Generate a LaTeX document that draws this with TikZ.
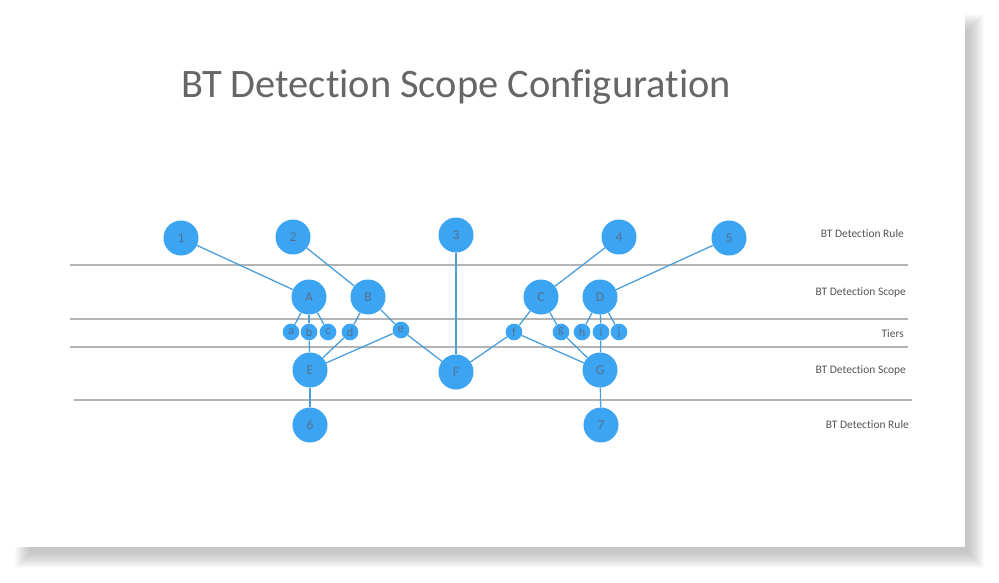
\documentclass[tikz,border=0pt]{standalone}
\usepackage{fontspec}
\setmainfont{Carlito}[Ligatures=NoCommon]
\usepackage{tikz}
\usetikzlibrary{calc,positioning}
\definecolor{nodeblue}{HTML}{3BA4F3}
\definecolor{edgeblue}{HTML}{4C9EDB}
\definecolor{nodetext}{HTML}{56708A}
\definecolor{rulegray}{HTML}{B4B4B4}
\definecolor{labelgray}{HTML}{555555}
\definecolor{titlegray}{HTML}{666666}
\tikzset{
    big/.style={circle, fill=nodeblue, minimum size=1.05cm, inner sep=0pt,
      text=nodetext, font=\fontsize{11.5}{12}\selectfont},
    tier/.style={circle, fill=nodeblue, minimum size=0.5cm, inner sep=0pt,
      text=nodetext, font=\fontsize{10.5}{11}\selectfont},
    edge/.style={draw=edgeblue, line width=1.1pt},
    band/.style={draw=rulegray, line width=1pt},
    lbl/.style={anchor=east, text=labelgray, font=\fontsize{9.8}{11}\selectfont},
    title/.style={text=titlegray, font=\fontsize{34.5}{40}\selectfont}
}

\begin{document}
\begin{tikzpicture}[x=0.03cm, y=-0.03cm]
\useasboundingbox (0,0) rectangle (999,583);

% ---- sheet and its shadow ----
\foreach \k in {1,...,16}
  \fill[black, opacity=0.017] (13+18-\k, 12+18-\k) rectangle (965+3+\k, 547+5+\k);
\fill[white] (13,12) rectangle (965,547);

\node[title] (ttl) at (456,87) {BT Detection Scope Configuration};

% ---- bands ----
\coordinate (L1) at (70,265);  \coordinate (R1) at (908,265);
\coordinate (L2) at (70,319);  \coordinate (R2) at (908,319);
\coordinate (L3) at (70,347);  \coordinate (R3) at (908,347);
\coordinate (L4) at (74,400);  \coordinate (R4) at (912,400);
\draw[band] (L1) -- (R1);
\draw[band] (L2) -- (R2);
\draw[band] (L3) -- (R3);
\draw[band] (L4) -- (R4);

\node[lbl] (lr1) at (908,234) {BT Detection Rule};
\node[lbl] (ls1) at (910,292) {BT Detection Scope};
\node[lbl] (lt)  at (908,334) {Tiers};
\node[lbl] (ls2) at (910,370) {BT Detection Scope};
\node[lbl] (lr2) at (913,425) {BT Detection Rule};

% ---- rules (top) ----
\node[big] (n1) at (181,238) {1};
\node[big] (n2) at (293,237) {2};
\node[big] (n3) at (456,235) {3};
\node[big] (n4) at (619,237) {4};
\node[big] (n5) at (729,238) {5};

% ---- scopes ----
\node[big] (A) at (309,297) {A};
\node[big] (B) at (368,297) {B};
\node[big] (C) at (541,297) {C};
\node[big] (D) at (600,297) {D};

% ---- tiers ----
\node[tier] (ta) at (291,332) {a};
\node[tier] (tb) at (309,332) {b};
\node[tier] (tc) at (328,332) {c};
\node[tier] (td) at (350,332) {d};
\node[tier] (te) at (401,330) {e};
\node[tier] (tf) at (514,332) {f};
\node[tier] (tg) at (561,332) {g};
\node[tier] (th) at (582,332) {h};
\node[tier] (ti) at (601,332) {i};
\node[tier] (tj) at (619,332) {j};

% ---- lower scopes and rules ----
\node[big] (E) at (310,370) {E};
\node[big] (F) at (456,372) {F};
\node[big] (G) at (600,370) {G};
\node[big] (n6) at (310,425) {6};
\node[big] (n7) at (601,425) {7};

% ---- edges: rules to scopes ----
\draw[edge] (n1) -- (A);
\draw[edge] (n2) -- (B);
\draw[edge] (n3) -- (F);
\draw[edge] (n4) -- (C);
\draw[edge] (n5) -- (D);

% ---- edges: scopes to tiers ----
\foreach \t in {ta,tb,tc} \draw[edge] (A) -- (\t);
\foreach \t in {td,te} \draw[edge] (B) -- (\t);
\foreach \t in {tf,tg} \draw[edge] (C) -- (\t);
\foreach \t in {th,ti,tj} \draw[edge] (D) -- (\t);

% ---- edges: tiers to lower scopes ----
\foreach \t in {tb,td,te} \draw[edge] (\t) -- (E);
\foreach \t in {te,tf} \draw[edge] (\t) -- (F);
\foreach \t in {tf,tg,ti} \draw[edge] (\t) -- (G);

\draw[edge] (E) -- (n6);
\draw[edge] (G) -- (n7);

\end{tikzpicture}
\end{document}
